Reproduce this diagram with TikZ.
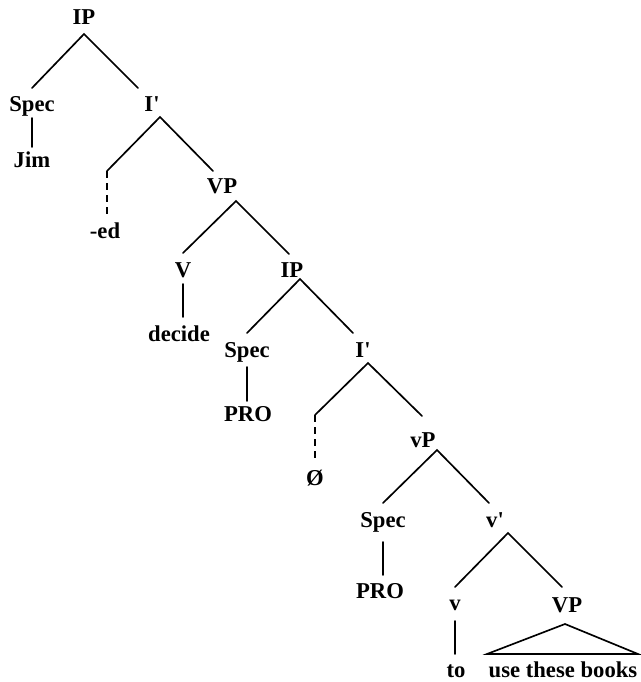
\documentclass[tikz,border=0pt]{standalone}
\usepackage{fontspec}
\setmainfont{Liberation Serif}
\begin{document}
\begin{tikzpicture}[x=0.75pt,y=-0.75pt,
  lbl/.style={anchor=base,inner sep=0pt,font=\fontsize{17}{20}\selectfont\bfseries},
  edge/.style={line width=1.25pt,line cap=round},
  dashedge/.style={line width=1.25pt,dash pattern=on 5.5pt off 3.5pt}]
\useasboundingbox (0,0) rectangle (640,682);
% labels
\node[lbl] (ip1) at (84,24) {IP};
\node[lbl] (spec1) at (32,111) {Spec};
\node[lbl] (ibar1) at (152,111) {I\textquotesingle};
\node[lbl] (jim) at (32,167) {Jim};
\node[lbl] (ed) at (105,238) {-ed};
\node[lbl] (vp1) at (222,193) {VP};
\node[lbl] (V) at (183,277) {V};
\node[lbl] (ip2) at (292,277) {IP};
\node[lbl] (decide) at (179,341) {decide};
\node[lbl] (spec2) at (247,357) {Spec};
\node[lbl] (ibar2) at (363,357) {I\textquotesingle};
\node[lbl] (pro1) at (248,421) {PRO};
\node[lbl] (null) at (315,485) {Ø};
\node[lbl] (lvp) at (423,447) {vP};
\node[lbl] (spec3) at (383,527) {Spec};
\node[lbl] (vbar) at (495,527) {v\textquotesingle};
\node[lbl] (pro2) at (380,598) {PRO};
\node[lbl] (lv) at (455,610) {v};
\node[lbl] (vp2) at (567,612) {VP};
\node[lbl] (to) at (456,677) {to};
\node[lbl] (books) at (563,677) {use these books};
% line end points
\coordinate (a1) at (84,34);   \coordinate (a1l) at (32,88);   \coordinate (a1r) at (138,88);
\coordinate (s1t) at (32,118); \coordinate (s1b) at (32,147);
\coordinate (a2) at (160,117); \coordinate (a2l) at (107,171); \coordinate (a2r) at (213,171);
\coordinate (d1) at (107,215);
\coordinate (a3) at (236,201); \coordinate (a3l) at (183,253); \coordinate (a3r) at (289,254);
\coordinate (vt) at (183,284); \coordinate (vb) at (183,317);
\coordinate (a4) at (300,279); \coordinate (a4l) at (247,333); \coordinate (a4r) at (353,333);
\coordinate (s2t) at (247,367); \coordinate (s2b) at (247,401);
\coordinate (a5) at (368,363); \coordinate (a5l) at (315,415); \coordinate (a5r) at (422,416);
\coordinate (d2) at (315,462);
\coordinate (a6) at (437,450); \coordinate (a6l) at (383,503); \coordinate (a6r) at (489,503);
\coordinate (s3t) at (383,542); \coordinate (s3b) at (383,575);
\coordinate (a7) at (508,533); \coordinate (a7l) at (455,587); \coordinate (a7r) at (562,587);
\coordinate (lvt) at (455,621); \coordinate (lvb) at (455,654);
\coordinate (t1) at (565,624); \coordinate (t1l) at (487,654); \coordinate (t1r) at (638,654);
% connectors
\draw[edge] (a1l) -- (a1) -- (a1r);
\draw[edge] (s1t) -- (s1b);
\draw[edge] (a2l) -- (a2) -- (a2r);
\draw[dashedge] (a2l) -- (d1);
\draw[edge] (a3l) -- (a3) -- (a3r);
\draw[edge] (vt) -- (vb);
\draw[edge] (a4l) -- (a4) -- (a4r);
\draw[edge] (s2t) -- (s2b);
\draw[edge] (a5l) -- (a5) -- (a5r);
\draw[dashedge] (a5l) -- (d2);
\draw[edge] (a6l) -- (a6) -- (a6r);
\draw[edge] (s3t) -- (s3b);
\draw[edge] (a7l) -- (a7) -- (a7r);
\draw[edge] (lvt) -- (lvb);
\draw[edge,line join=miter] (t1) -- (t1l) -- (t1r) -- cycle;
\end{tikzpicture}
\end{document}
